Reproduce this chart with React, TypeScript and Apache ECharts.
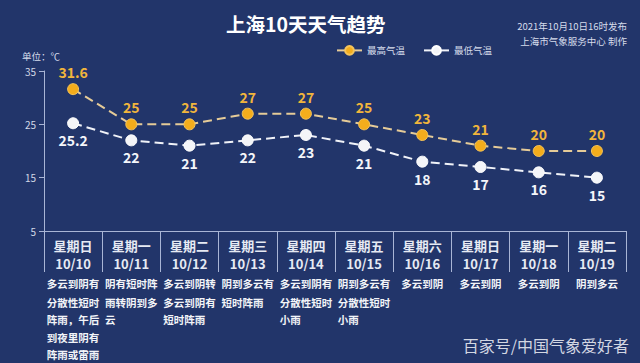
import React, { useEffect, useRef } from "react";
import * as echarts from "echarts";

const weekdays = ["星期日", "星期一", "星期二", "星期三", "星期四", "星期五", "星期六", "星期日", "星期一", "星期二"];
const dates = ["10/10", "10/11", "10/12", "10/13", "10/14", "10/15", "10/16", "10/17", "10/18", "10/19"];
const descriptions = [
  "多云到阴有\n分散性短时\n阵雨，午后\n到夜里阴有\n阵雨或雷雨",
  "阴有短时阵\n雨转阴到多\n云",
  "多云到阴转\n多云到阴有\n短时阵雨",
  "阴到多云有\n短时阵雨",
  "多云到阴有\n分散性短时\n小雨",
  "阴到多云有\n分散性短时\n小雨",
  "多云到阴",
  "多云到阴",
  "多云到阴",
  "阴到多云",
];
const highTemps = [31.6, 25, 25, 27, 27, 25, 23, 21, 20, 20];
const lowTemps = [25.2, 22, 21, 22, 23, 21, 18, 17, 16, 15];
const yTicks = { min: 5, max: 35, interval: 10 };

const FONT = '"Noto Sans CJK SC", "Noto Sans", sans-serif';
const AXIS_COLOR = "#a9b5d5";

export default function App() {
  const ref = useRef<HTMLDivElement>(null);
  useEffect(() => {
    if (!ref.current) return;
    const chart = echarts.init(ref.current, undefined, { renderer: "svg" });
    const cats = dates.map((d, i) => i);
    chart.setOption({
      animation: false,
      backgroundColor: "#22356a",
      textStyle: { fontFamily: FONT },
      title: {
        text: "上海10天天气趋势",
        left: 226,
        top: 14,
        padding: 0,
        textStyle: { color: "#ffffff", fontSize: 19.5, fontWeight: "bold", fontFamily: FONT },
      },
      graphic: [
        {
          type: "text",
          x: 627,
          y: 26,
          style: { text: "2021年10月10日16时发布", fill: "#d6dcea", fontSize: 9.5, fontFamily: FONT, align: "right", verticalAlign: "middle" },
        },
        {
          type: "text",
          x: 627,
          y: 41,
          style: { text: "上海市气象服务中心 制作", fill: "#d6dcea", fontSize: 9.5, fontFamily: FONT, align: "right", verticalAlign: "middle" },
        },
        {
          type: "text",
          x: 629,
          y: 345,
          style: { text: "百家号/中国气象爱好者", fill: "#d3d7e2", fontSize: 16, fontFamily: FONT, align: "right", verticalAlign: "middle" },
        },
      ],
      legend: {
        left: 331,
        top: 40,
        itemWidth: 25,
        itemHeight: 11,
        itemGap: 18,
        textStyle: { color: "#d6dcea", fontSize: 9.5, fontFamily: FONT },
        lineStyle: { type: "solid" },
        data: ["最高气温", "最低气温"],
      },
      grid: { left: 44, right: 14, top: 71, bottom: 132 },
      xAxis: {
        type: "category",
        data: cats,
        boundaryGap: true,
        axisLine: { lineStyle: { color: AXIS_COLOR, width: 1 } },
        axisTick: { show: true, length: 41, lineStyle: { color: AXIS_COLOR } },
        axisLabel: {
          interval: 0,
          margin: 6,
          formatter: (_v: any, i: number) => {
            const lines = descriptions[i].split("\n");
            const desc = lines.map((l, k) => (k === 0 ? `{f|${l}}` : `{g|${l}}`)).join("\n");
            return `{w|${weekdays[i]}}\n{w|${dates[i]}}\n${desc}`;
          },
          rich: {
            w: { fontSize: 13, fontWeight: "bold", color: "#e6eaf3", lineHeight: 17.5, align: "center", fontFamily: FONT },
            f: { fontSize: 10.5, fontWeight: "bold", color: "#f2f4f8", lineHeight: 22, align: "left", fontFamily: FONT },
            g: { fontSize: 10.5, fontWeight: "bold", color: "#f2f4f8", lineHeight: 17.2, align: "left", fontFamily: FONT },
          },
        },
        splitLine: { show: false },
      },
      yAxis: {
        type: "value",
        min: yTicks.min,
        max: yTicks.max,
        interval: yTicks.interval,
        name: "单位：℃",
        nameGap: 10,
        nameTextStyle: { color: "#d6dcea", fontSize: 9.5, fontFamily: FONT, padding: [0, 6, 0, 0] },
        axisLine: { show: true, lineStyle: { color: AXIS_COLOR } },
        axisTick: { show: true, length: 5, lineStyle: { color: AXIS_COLOR } },
        axisLabel: { color: "#d3d9e7", fontSize: 10, margin: 8, fontFamily: FONT },
        splitLine: { show: false },
      },
      series: [
        {
          name: "最高气温",
          type: "line",
          data: highTemps,
          symbol: "circle",
          symbolSize: 11,
          itemStyle: { color: "#f4ad1c", borderColor: "#f4c35a", borderWidth: 1 },
          lineStyle: { color: "#e5cb98", width: 2, type: [9, 5] },
          label: {
            show: true,
            position: "top",
            distance: 4,
            color: "#f1b53c",
            fontSize: 14,
            fontWeight: "bold",
            fontFamily: FONT,
          },
        },
        {
          name: "最低气温",
          type: "line",
          data: lowTemps,
          symbol: "circle",
          symbolSize: 11,
          itemStyle: { color: "#f4f5f8", borderColor: "#ffffff", borderWidth: 1 },
          lineStyle: { color: "#f0f2f8", width: 2, type: [9, 5] },
          label: {
            show: true,
            position: "bottom",
            distance: 4,
            color: "#f4f6fa",
            fontSize: 14,
            fontWeight: "bold",
            fontFamily: FONT,
          },
        },
      ],
    });
    return () => chart.dispose();
  }, []);
  return <div ref={ref} style={{ width: 640, height: 363, position: "fixed", left: 0, top: 0 }} />;
}
